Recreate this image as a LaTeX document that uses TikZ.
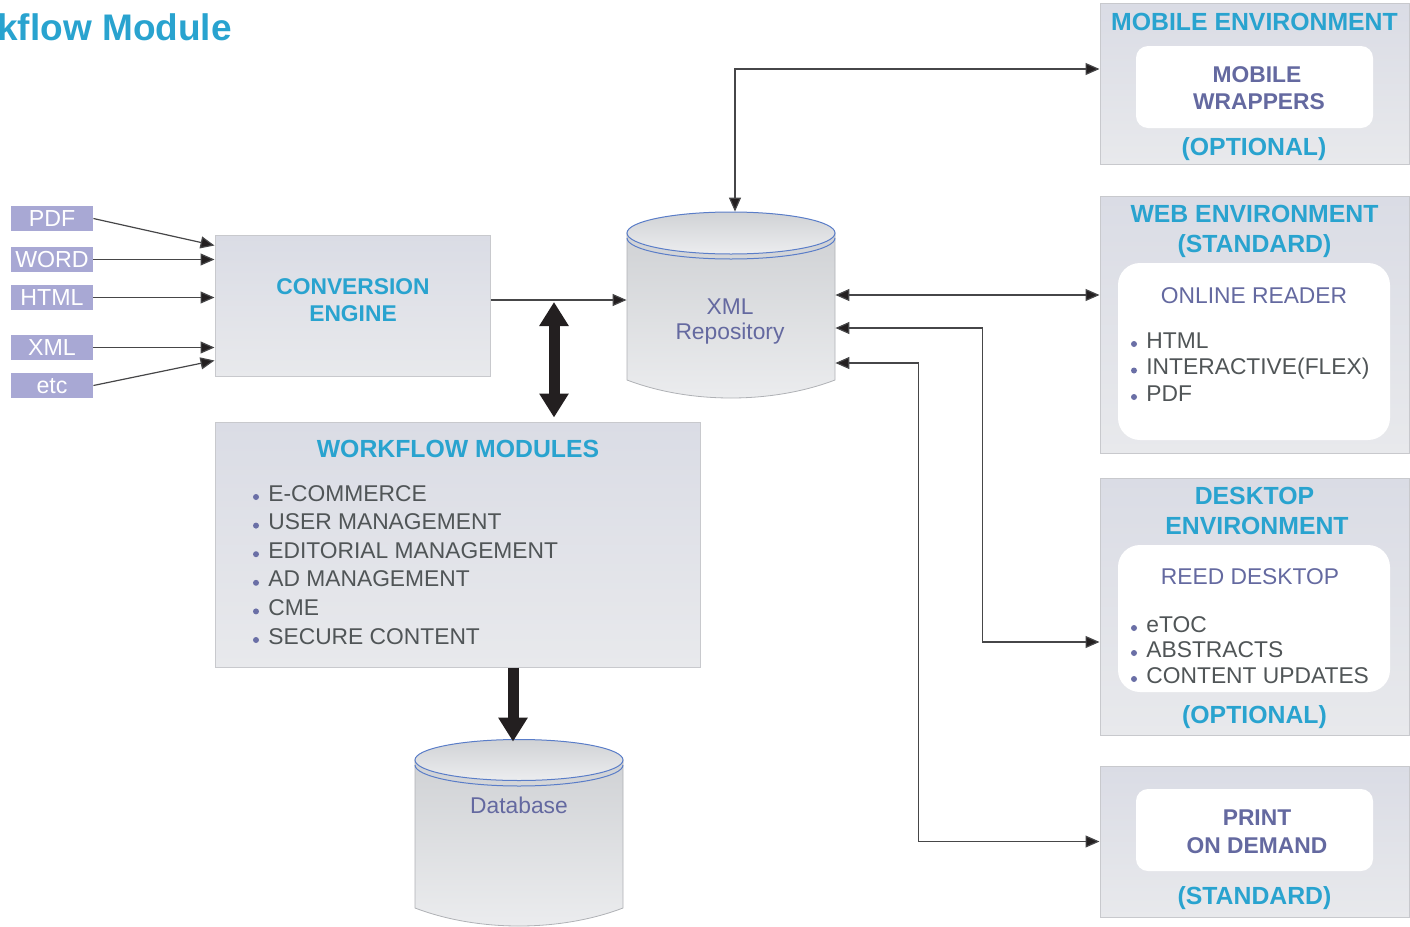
\documentclass[tikz,border=0pt]{standalone}
\usepackage{fontspec}
\setmainfont{Liberation Sans}
\usetikzlibrary{arrows.meta,calc}
\definecolor{cyanT}{RGB}{41,163,207}
\definecolor{slateT}{RGB}{100,105,160}
\definecolor{darkT}{RGB}{80,85,87}
\definecolor{bulc}{RGB}{106,111,166}
\definecolor{lav}{RGB}{168,168,212}
\definecolor{boxtop}{RGB}{218,220,229}
\definecolor{boxbot}{RGB}{232,233,236}
\definecolor{bordc}{RGB}{200,201,205}
\definecolor{cylTop}{RGB}{208,210,213}
\definecolor{cylBot}{RGB}{236,237,239}
\definecolor{cylSide}{RGB}{175,177,181}
\definecolor{cylBlue}{RGB}{90,125,200}
\definecolor{lineC}{RGB}{70,70,72}
\definecolor{tipC}{RGB}{35,31,32}
\begin{document}
\begin{tikzpicture}[x=0.5pt,y=-0.5pt,
  envbox/.style={draw=bordc, line width=0.5pt, top color=boxtop, bottom color=boxbot, inner sep=0},
  inbox/.style={fill=lav, text=white, minimum width=41pt, minimum height=12.5pt, inner sep=0,
    text height=8.16pt, text depth=0pt, font=\fontsize{11.6}{13}\selectfont},
  ttl/.style={anchor=base, inner sep=0, text=cyanT, font=\fontsize{12.4}{15}\selectfont\bfseries},
  sub/.style={anchor=base, inner sep=0, text=cyanT, font=\fontsize{11.4}{14}\selectfont\bfseries},
  inner/.style={anchor=base, inner sep=0, text=slateT, font=\fontsize{11.4}{14}\selectfont\bfseries},
  innerR/.style={anchor=base, inner sep=0, text=slateT, font=\fontsize{11.4}{14}\selectfont},
  item/.style={anchor=base west, inner sep=0, text=darkT, font=\fontsize{11.4}{14}\selectfont},
  arr/.style={draw=lineC, line width=0.6pt, -{Triangle[length=7pt,width=6pt,fill=tipC]}},
  darr/.style={draw=lineC, line width=0.6pt, {Triangle[length=7pt,width=6pt,fill=tipC]}-{Triangle[length=7pt,width=6pt,fill=tipC]}},
  thickarr/.style={draw=tipC, line width=5.5pt, -{Triangle[length=12pt,width=14pt]}},
  dthickarr/.style={draw=tipC, line width=5.5pt, {Triangle[length=12pt,width=14pt]}-{Triangle[length=12pt,width=14pt]}}
]
\useasboundingbox (0,0) rectangle (1410,927);

% title
\node[anchor=base west, inner sep=0, text=cyanT, font=\fontsize{18.5}{22}\selectfont\bfseries] (title) at (-3,40) {kflow Module};

% input boxes
\node[inbox] (pdf)  at (52,218.5) {PDF};
\node[inbox] (word) at (52,259.5) {WORD};
\node[inbox] (html) at (52,297.5) {HTML};
\node[inbox] (xml)  at (52,347.5) {XML};
\node[inbox] (etc)  at (52,385.5) {etc};

% conversion engine
\node[envbox, minimum width=137.5pt, minimum height=70.5pt] (conv) at (352.5,305.5) {};
\node[sub] (conv1) at (353,294) {CONVERSION};
\node[sub] (conv2) at (353,321) {ENGINE};

% workflow modules
\node[envbox, minimum width=242.5pt, minimum height=122.5pt] (wf) at (457.5,544.5) {};
\node[ttl] (wft) at (458,457) {WORKFLOW MODULES};
\foreach \t [count=\i from 0] in {E-COMMERCE,USER MANAGEMENT,EDITORIAL MANAGEMENT,AD MANAGEMENT,CME,SECURE CONTENT}{
  \node[item] (wfi\i) at (268,{501+28.6*\i}) {\t};
  \fill[bulc] (256,{497+28.6*\i}) circle (3);
}

% XML repository cylinder
\node[minimum width=104pt, minimum height=93pt, inner sep=0] (repo) at (731,305) {};
\shade[top color=cylTop, bottom color=cylBot, draw=cylSide, line width=0.4pt]
  (627,233) -- (627,380) .. controls (690,404) and (772,404) .. (835,380) -- (835,233) -- cycle;
\draw[cylBlue, line width=0.5pt] (627,238) .. controls (627,249.6) and (673.6,259) .. (731,259)
  .. controls (788.4,259) and (835,249.6) .. (835,238);
\shade[top color=cylTop, bottom color=cylBot, draw=cylBlue, line width=0.5pt]
  (731,233) ellipse [x radius=104, y radius=21];
\node[innerR] (repo1) at (730,314) {XML};
\node[innerR] (repo2) at (730,339) {Repository};

% Database cylinder
\node[minimum width=104pt, minimum height=93.5pt, inner sep=0] (db) at (519,833.5) {};
\shade[top color=cylTop, bottom color=cylBot, draw=cylSide, line width=0.4pt]
  (415,760) -- (415,908) .. controls (478,932) and (560,932) .. (623,908) -- (623,760) -- cycle;
\draw[cylBlue, line width=0.5pt] (415,765) .. controls (415,776.3) and (461.6,786) .. (519,786)
  .. controls (576.4,786) and (623,776.3) .. (623,765);
\shade[top color=cylTop, bottom color=cylBot, draw=cylBlue, line width=0.5pt]
  (519,760) ellipse [x radius=104, y radius=20.5];
\node[innerR] (dbt) at (519,813) {Database};

% Mobile environment
\node[envbox, minimum width=154.5pt, minimum height=80.5pt] (mob) at (1254.5,83.5) {};
\fill[white, rounded corners=6pt] (1136,46) rectangle (1373,128);
\node[ttl] (mobt) at (1254.5,30) {MOBILE ENVIRONMENT};
\node[inner] (mob1) at (1257,82) {MOBILE};
\node[inner] (mob2) at (1259,109) {WRAPPERS};
\node[ttl] (mob3) at (1254,155) {(OPTIONAL)};

% Web environment
\node[envbox, minimum width=154.5pt, minimum height=128.5pt] (web) at (1254.5,324.5) {};
\fill[white, rounded corners=11pt] (1118,263) rectangle (1390,440);
\node[ttl] (webt1) at (1254.5,222) {WEB ENVIRONMENT};
\node[ttl] (webt2) at (1254.5,252) {(STANDARD)};
\node[innerR] (web0) at (1254,303) {ONLINE READER};
\foreach \t/\yy [count=\i] in {HTML/348,INTERACTIVE(FLEX)/374.5,PDF/401}{
  \node[item] (webi\i) at (1146,\yy) {\t};
  \fill[bulc] (1134,\yy-4) circle (3);
}

% Desktop environment
\node[envbox, minimum width=154.5pt, minimum height=128.5pt] (desk) at (1254.5,606.5) {};
\fill[white, rounded corners=11pt] (1118,545) rectangle (1390,692);
\node[ttl] (deskt1) at (1254.5,504) {DESKTOP};
\node[ttl] (deskt2) at (1257,534) {ENVIRONMENT};
\node[innerR] (desk0) at (1250,584) {REED DESKTOP};
\foreach \t/\yy [count=\i] in {eTOC/632,ABSTRACTS/657,CONTENT UPDATES/683}{
  \node[item] (deski\i) at (1146,\yy) {\t};
  \fill[bulc] (1134,\yy-4) circle (3);
}
\node[ttl] (desk4) at (1254.5,723) {(OPTIONAL)};

% Print on demand
\node[envbox, minimum width=154.5pt, minimum height=75.5pt] (print) at (1254.5,841.5) {};
\fill[white, rounded corners=6pt] (1136,789) rectangle (1373,871);
\node[inner] (pr1) at (1257,825) {PRINT};
\node[inner] (pr2) at (1257,853) {ON DEMAND};
\node[ttl] (pr3) at (1254.5,904) {(STANDARD)};

% connectors from inputs
\draw[arr] (pdf.east) -- ($(conv.north west)+(0,11)$);
\draw[arr] (word.east) -- (word -| conv.west);
\draw[arr] (html.east) -- (html -| conv.west);
\draw[arr] (xml.east) -- (xml -| conv.west);
\draw[arr] (etc.east) -- ($(conv.south west)+(0,-16)$);

% conversion -> repo
\coordinate (c1) at ($(conv.east)+(0,-5.5)$);
\draw[arr] (c1) -- (c1 -| repo.west);

% conversion <-> workflow thick
\coordinate (dtop) at (554,302);
\draw[dthickarr, shorten >=2pt] (dtop) -- (dtop |- wf.north);

% workflow -> database
\coordinate (w1) at ($(wf.south)+(55.5,0)$);
\draw[thickarr] (w1) -- ($(w1 |- db.north)+(0,2)$);

% repo <-> mobile
\coordinate (r1) at ($(repo.north)+(4,0)$);
\coordinate (m1) at ($(mob.west)+(0,-14.5)$);
\draw[darr] (r1) |- (m1);

% repo <-> web
\coordinate (r2) at ($(repo.east)+(0,-10)$);
\draw[darr] (r2) -- (r2 -| web.west);

% repo <-> desktop
\coordinate (r3) at ($(repo.east)+(0,23)$);
\coordinate (d1) at ($(desk.west)+(0,35.5)$);
\draw[darr] (d1) -- ++(-117,0) |- (r3);

% repo <-> print
\coordinate (r4) at ($(repo.east)+(0,58)$);
\draw[darr] (print.west) -- ++(-181,0) |- (r4);
\end{tikzpicture}
\end{document}
